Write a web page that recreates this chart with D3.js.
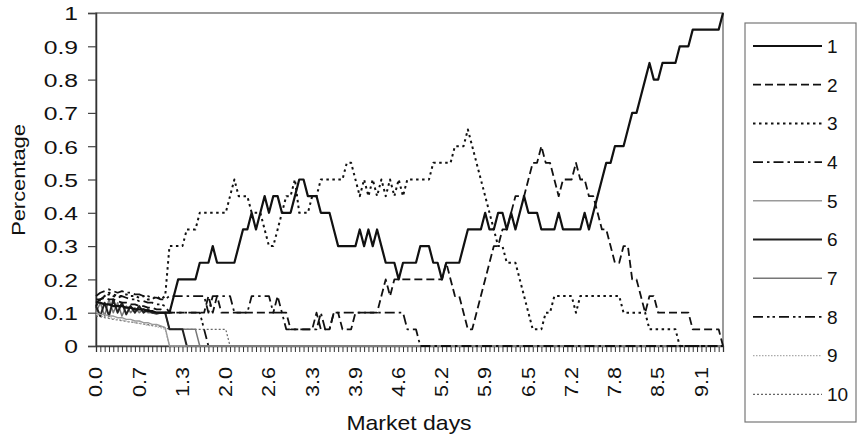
<!DOCTYPE html>
<html><head><meta charset="utf-8">
<script src="https://cdn.jsdelivr.net/npm/d3@7"></script>
<style>
html,body{margin:0;padding:0;background:#fff;}
svg{display:block;font-family:"Liberation Sans",Arial,Helvetica,sans-serif;}
</style></head><body>
<svg id="chart" width="857" height="440"></svg>
<script>
// ---- data (share of each of 10 series per market-day category) ----
const s1 = [0.13,0.13,0.125,0.125,0.12,0.12,0.12,0.115,0.115,0.11,
 0.11,0.11,0.105,0.105,0.1,0.1,0.1,0.1,0.15,0.2,
 0.2,0.2,0.2,0.2,0.25,0.25,0.25,0.3,0.25,0.25,
 0.25,0.25,0.25,0.3,0.35,0.35,0.4,0.35,0.4,0.45,
 0.4,0.45,0.45,0.4,0.4,0.4,0.45,0.5,0.5,0.45,
 0.45,0.45,0.4,0.4,0.4,0.35,0.3,0.3,0.3,0.3,
 0.3,0.35,0.3,0.35,0.3,0.35,0.3,0.25,0.25,0.25,
 0.2,0.25,0.25,0.25,0.25,0.3,0.3,0.3,0.25,0.25,
 0.2,0.25,0.25,0.25,0.25,0.3,0.35,0.35,0.35,0.35,
 0.4,0.35,0.35,0.4,0.4,0.35,0.4,0.35,0.4,0.45,
 0.4,0.4,0.4,0.35,0.35,0.35,0.35,0.4,0.35,0.35,
 0.35,0.35,0.35,0.4,0.35,0.4,0.45,0.5,0.55,0.55,
 0.6,0.6,0.6,0.65,0.7,0.7,0.75,0.8,0.85,0.8,
 0.8,0.85,0.85,0.85,0.85,0.9,0.9,0.9,0.95,0.95,
 0.95,0.95,0.95,0.95,0.95,1.0];
const s2 = [0.14,0.14,0.145,0.14,0.14,0.135,0.13,0.13,0.125,0.125,
 0.12,0.12,0.115,0.115,0.11,0.11,0.1,0.1,0.1,0.1,
 0.1,0.1,0.1,0.1,0.1,0.1,0.15,0.1,0.15,0.1,
 0.1,0.1,0.1,0.1,0.1,0.1,0.1,0.1,0.1,0.1,
 0.1,0.1,0.15,0.1,0.1,0.05,0.05,0.05,0.05,0.05,
 0.05,0.1,0.05,0.05,0.05,0.1,0.1,0.05,0.05,0.05,
 0.1,0.1,0.1,0.1,0.1,0.1,0.15,0.2,0.15,0.2,
 0.2,0.2,0.2,0.2,0.2,0.2,0.2,0.2,0.2,0.2,
 0.2,0.25,0.2,0.15,0.15,0.1,0.05,0.05,0.1,0.15,
 0.2,0.25,0.3,0.3,0.35,0.35,0.4,0.45,0.45,0.45,
 0.5,0.55,0.55,0.6,0.55,0.55,0.5,0.45,0.5,0.5,
 0.5,0.55,0.5,0.5,0.45,0.45,0.4,0.35,0.35,0.3,
 0.25,0.25,0.3,0.3,0.2,0.2,0.15,0.1,0.15,0.15,
 0.1,0.1,0.1,0.1,0.1,0.1,0.1,0.1,0.05,0.05,
 0.05,0.05,0.05,0.05,0.05,0];
const s3 = [0.12,0.14,0.15,0.16,0.155,0.15,0.15,0.155,0.15,0.15,
 0.145,0.15,0.14,0.14,0.15,0.14,0.15,0.3,0.3,0.3,
 0.3,0.35,0.35,0.35,0.4,0.4,0.4,0.4,0.4,0.4,
 0.4,0.45,0.5,0.45,0.45,0.45,0.4,0.4,0.4,0.35,
 0.3,0.3,0.35,0.4,0.45,0.45,0.5,0.4,0.4,0.4,
 0.45,0.45,0.5,0.5,0.5,0.5,0.5,0.5,0.55,0.55,
 0.5,0.45,0.5,0.45,0.5,0.45,0.5,0.45,0.5,0.45,
 0.5,0.45,0.5,0.5,0.5,0.5,0.5,0.5,0.55,0.55,
 0.55,0.55,0.55,0.6,0.6,0.6,0.65,0.6,0.55,0.5,
 0.45,0.4,0.35,0.3,0.3,0.25,0.25,0.25,0.2,0.15,
 0.1,0.05,0.05,0.05,0.1,0.1,0.15,0.15,0.15,0.15,
 0.15,0.1,0.15,0.15,0.15,0.15,0.15,0.15,0.15,0.15,
 0.15,0.15,0.1,0.1,0.1,0.1,0.1,0.1,0.05,0.05,
 0.05,0.05,0.05,0.05,0.05,0,0,0,0,0,
 0,0,0,0,0,0];
const s4 = [0.15,0.16,0.165,0.17,0.165,0.16,0.165,0.16,0.16,0.155,
 0.155,0.15,0.15,0.145,0.145,0.14,0.14,0.15,0.15,0.15,
 0.15,0.15,0.15,0.15,0.15,0.15,0.1,0.15,0.15,0.15,
 0.15,0.15,0.1,0.1,0.1,0.1,0.15,0.15,0.15,0.15,
 0.15,0.1,0.1,0.1,0.05,0.05,0.05,0.05,0.05,0.05,
 0.05,0.05,0.1,0.05,0.05,0.1,0.1,0.1,0.1,0.1,
 0.1,0.1,0.1,0.1,0.1,0.1,0.1,0.1,0.1,0.1,
 0.1,0.1,0.05,0.05,0.05,0,0,0,0,0,
 0,0,0,0,0,0,0,0,0,0,
 0,0,0,0,0,0,0,0,0,0,
 0,0,0,0,0,0,0,0,0,0,
 0,0,0,0,0,0,0,0,0,0,
 0,0,0,0,0,0,0,0,0,0,
 0,0,0,0,0,0,0,0,0,0,
 0,0,0,0,0,0];
const s5 = [0.1,0.095,0.095,0.09,0.09,0.085,0.085,0.08,0.08,0.075,
 0.075,0.07,0.07,0.065,0.065,0.06,0.055,0,0,0,
 0,0,0,0,0,0,0,0,0,0,
 0,0,0,0,0,0,0,0,0,0,
 0,0,0,0,0,0,0,0,0,0,
 0,0,0,0,0,0,0,0,0,0,
 0,0,0,0,0,0,0,0,0,0,
 0,0,0,0,0,0,0,0,0,0,
 0,0,0,0,0,0,0,0,0,0,
 0,0,0,0,0,0,0,0,0,0,
 0,0,0,0,0,0,0,0,0,0,
 0,0,0,0,0,0,0,0,0,0,
 0,0,0,0,0,0,0,0,0,0,
 0,0,0,0,0,0,0,0,0,0,
 0,0,0,0,0,0];
const s6 = [0.12,0.09,0.13,0.09,0.14,0.1,0.13,0.095,0.12,0.1,
 0.12,0.1,0.11,0.1,0.1,0.1,0.1,0.05,0.05,0.05,
 0.05,0,0,0,0,0,0,0,0,0,
 0,0,0,0,0,0,0,0,0,0,
 0,0,0,0,0,0,0,0,0,0,
 0,0,0,0,0,0,0,0,0,0,
 0,0,0,0,0,0,0,0,0,0,
 0,0,0,0,0,0,0,0,0,0,
 0,0,0,0,0,0,0,0,0,0,
 0,0,0,0,0,0,0,0,0,0,
 0,0,0,0,0,0,0,0,0,0,
 0,0,0,0,0,0,0,0,0,0,
 0,0,0,0,0,0,0,0,0,0,
 0,0,0,0,0,0,0,0,0,0,
 0,0,0,0,0,0];
const s7 = [0.1,0.13,0.09,0.14,0.1,0.13,0.09,0.12,0.1,0.115,
 0.1,0.11,0.1,0.1,0.095,0.1,0.1,0.05,0.05,0.05,
 0.05,0.05,0.05,0.05,0,0,0,0,0,0,
 0,0,0,0,0,0,0,0,0,0,
 0,0,0,0,0,0,0,0,0,0,
 0,0,0,0,0,0,0,0,0,0,
 0,0,0,0,0,0,0,0,0,0,
 0,0,0,0,0,0,0,0,0,0,
 0,0,0,0,0,0,0,0,0,0,
 0,0,0,0,0,0,0,0,0,0,
 0,0,0,0,0,0,0,0,0,0,
 0,0,0,0,0,0,0,0,0,0,
 0,0,0,0,0,0,0,0,0,0,
 0,0,0,0,0,0,0,0,0,0,
 0,0,0,0,0,0];
const s8 = [0.13,0.14,0.15,0.155,0.15,0.145,0.15,0.145,0.14,0.14,
 0.135,0.135,0.13,0.13,0.125,0.125,0.12,0.1,0.1,0.1,
 0.1,0.1,0.1,0.1,0.1,0.05,0,0,0,0,
 0,0,0,0,0,0,0,0,0,0,
 0,0,0,0,0,0,0,0,0,0,
 0,0,0,0,0,0,0,0,0,0,
 0,0,0,0,0,0,0,0,0,0,
 0,0,0,0,0,0,0,0,0,0,
 0,0,0,0,0,0,0,0,0,0,
 0,0,0,0,0,0,0,0,0,0,
 0,0,0,0,0,0,0,0,0,0,
 0,0,0,0,0,0,0,0,0,0,
 0,0,0,0,0,0,0,0,0,0,
 0,0,0,0,0,0,0,0,0,0,
 0,0,0,0,0,0];
const s9 = [0.095,0.09,0.088,0.085,0.083,0.08,0.078,0.075,0.072,0.07,
 0.068,0.065,0.062,0.06,0.058,0.055,0.05,0,0,0,
 0,0,0,0,0,0,0,0,0,0,
 0,0,0,0,0,0,0,0,0,0,
 0,0,0,0,0,0,0,0,0,0,
 0,0,0,0,0,0,0,0,0,0,
 0,0,0,0,0,0,0,0,0,0,
 0,0,0,0,0,0,0,0,0,0,
 0,0,0,0,0,0,0,0,0,0,
 0,0,0,0,0,0,0,0,0,0,
 0,0,0,0,0,0,0,0,0,0,
 0,0,0,0,0,0,0,0,0,0,
 0,0,0,0,0,0,0,0,0,0,
 0,0,0,0,0,0,0,0,0,0,
 0,0,0,0,0,0];
const s10 = [0.09,0.088,0.085,0.083,0.08,0.078,0.076,0.074,0.072,0.07,
 0.068,0.066,0.064,0.062,0.06,0.058,0.055,0.05,0.05,0.05,
 0.05,0.05,0.05,0.05,0.05,0.05,0.05,0.05,0.05,0.05,
 0.05,0,0,0,0,0,0,0,0,0,
 0,0,0,0,0,0,0,0,0,0,
 0,0,0,0,0,0,0,0,0,0,
 0,0,0,0,0,0,0,0,0,0,
 0,0,0,0,0,0,0,0,0,0,
 0,0,0,0,0,0,0,0,0,0,
 0,0,0,0,0,0,0,0,0,0,
 0,0,0,0,0,0,0,0,0,0,
 0,0,0,0,0,0,0,0,0,0,
 0,0,0,0,0,0,0,0,0,0,
 0,0,0,0,0,0,0,0,0,0,
 0,0,0,0,0,0];

const seriesNames = ["1","2","3","4","5","6","7","8","9","10"];
const yTickValues = [0,0.1,0.2,0.3,0.4,0.5,0.6,0.7,0.8,0.9,1];
const yTickLabels = ["0","0.1","0.2","0.3","0.4","0.5","0.6","0.7","0.8","0.9","1"];
const xTickLabels = ["0.0","0.7","1.3","2.0","2.6","3.3","3.9","4.6","5.2","5.9","6.5","7.2","7.8","8.5","9.1"];
const xLabelEvery = 10;
const xTitle = "Market days";
const yTitle = "Percentage";

// ---- drawing ----
const series = [s1,s2,s3,s4,s5,s6,s7,s8,s9,s10];
const styles = [
  {color:"#111", width:2.2, dash:null},
  {color:"#111", width:1.8, dash:"8,4"},
  {color:"#111", width:2.0, dash:"2.5,3.5"},
  {color:"#111", width:1.8, dash:"10,4,2.5,4"},
  {color:"#9a9a9a", width:1.4, dash:null},
  {color:"#222", width:2.0, dash:null},
  {color:"#777", width:1.5, dash:null},
  {color:"#111", width:1.8, dash:"10,4,2.5,3,2.5,4"},
  {color:"#aaa", width:1.2, dash:"1.5,1.5"},
  {color:"#666", width:1.2, dash:"2,2"}
];

const N = s1.length;
const L = 96, R = 723, T = 13, B = 346;
const svg = d3.select("#chart");
const x = d3.scalePoint().domain(d3.range(N)).range([L, R]);
const y = d3.scaleLinear().domain([0, 1]).range([B, T]);

// plot frame
svg.append("rect").attr("x", L).attr("y", T).attr("width", R - L).attr("height", B - T)
  .attr("fill", "none").attr("stroke", "#666").attr("stroke-width", 1.3);

// y axis
const yAx = svg.append("g").attr("transform", `translate(${L},0)`)
  .call(d3.axisLeft(y).tickValues(yTickValues).tickSize(8)
    .tickFormat((d, i) => yTickLabels[i]));
yAx.select(".domain").attr("stroke", "#333").attr("stroke-width", 1.5);
yAx.selectAll(".tick line").attr("stroke", "#444").attr("stroke-width", 1.2);
yAx.selectAll(".tick text").attr("x", null).attr("dy", "0.36em")
  .attr("transform", "translate(-18,0) scale(1.3,1)")
  .attr("font-size", 19).attr("fill", "#111").attr("text-anchor", "end")
  .attr("font-family", "'Liberation Sans', Arial, sans-serif");

// x axis (tick at every category)
const xAx = svg.append("g").attr("transform", `translate(0,${B})`)
  .call(d3.axisBottom(x).tickSize(6).tickFormat(""));
xAx.select(".domain").attr("stroke", "#444").attr("stroke-width", 1.3);
xAx.selectAll(".tick line").attr("stroke", "#333").attr("stroke-width", 1);

// x labels
svg.append("g").selectAll("text").data(xTickLabels).join("text")
  .attr("transform", (d, k) => `translate(${x(k * xLabelEvery)},367) rotate(-90) scale(1.2,1)`)
  .attr("text-anchor", "end").attr("dy", "0.35em")
  .attr("font-size", 18).attr("fill", "#111")
  .text(d => d);

// axis titles
svg.append("text").attr("transform", `translate(409,430) scale(1.15,1)`)
  .attr("text-anchor", "middle").attr("font-size", 20).attr("fill", "#111").text(xTitle);
svg.append("text").attr("transform", `translate(25,180) rotate(-90) scale(1.15,1)`)
  .attr("text-anchor", "middle").attr("font-size", 19).attr("fill", "#111").text(yTitle);

// series lines (series 1 on top)
const line = d3.line().x((d, i) => x(i)).y(d => y(d));
const order = d3.range(series.length).reverse();
svg.append("g").selectAll("path").data(order).join("path")
  .attr("d", k => line(series[k]))
  .attr("fill", "none")
  .attr("stroke", k => styles[k].color)
  .attr("stroke-width", k => styles[k].width)
  .attr("stroke-dasharray", k => styles[k].dash)
  .attr("stroke-linejoin", "round");

// legend
const lg = svg.append("g");
lg.append("rect").attr("x", 745).attr("y", 23).attr("width", 111).attr("height", 399)
  .attr("fill", "#fff").attr("stroke", "#777").attr("stroke-width", 1.2);
const items = lg.selectAll("g.item").data(seriesNames).join("g").attr("class", "item")
  .attr("transform", (d, k) => `translate(0,${46 + k * 38.7})`);
items.append("line").attr("x1", 753).attr("x2", 822).attr("y1", 0).attr("y2", 0)
  .attr("stroke", (d, k) => styles[k].color)
  .attr("stroke-width", (d, k) => styles[k].width)
  .attr("stroke-dasharray", (d, k) => styles[k].dash);
items.append("text").attr("x", 827).attr("dy", "0.36em").attr("font-size", 19)
  .attr("fill", "#111").text(d => d);
</script>
</body></html>
